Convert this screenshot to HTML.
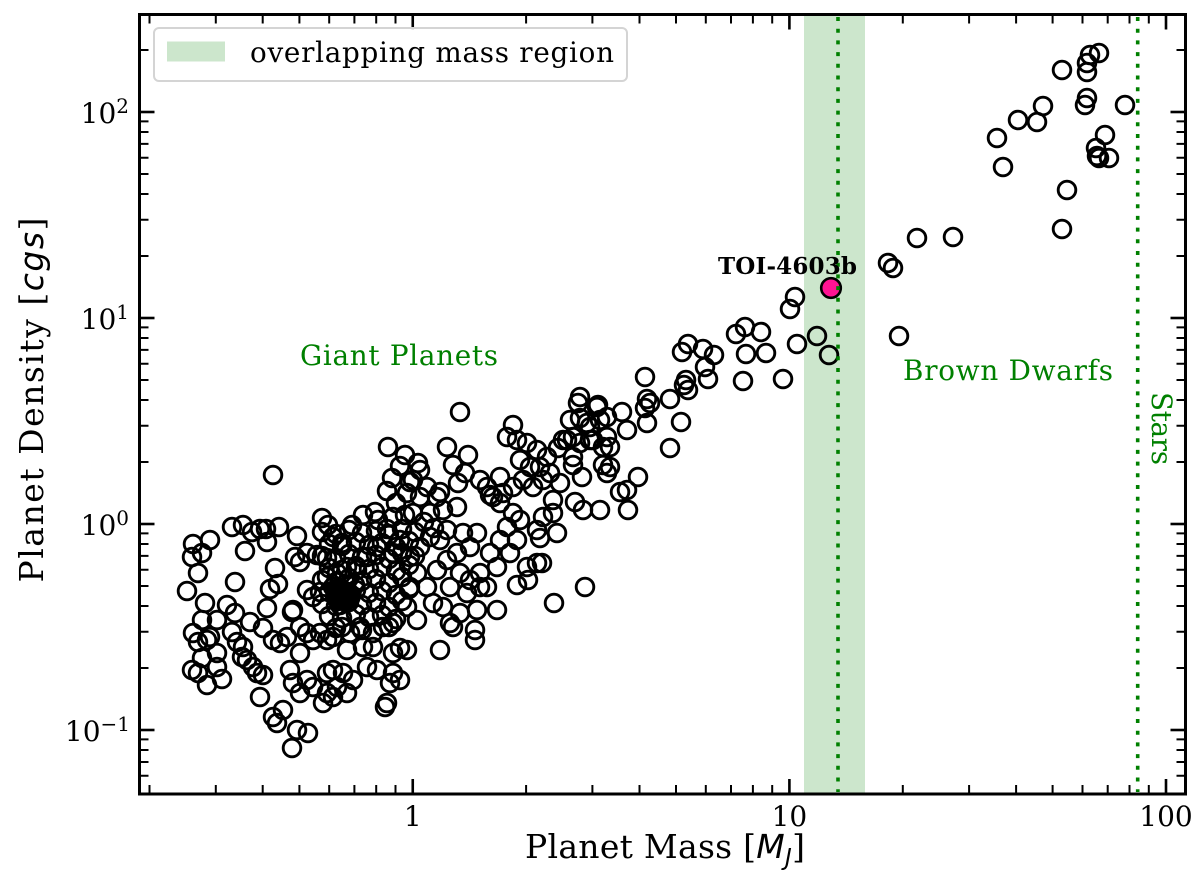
<!DOCTYPE html>
<html><head><meta charset="utf-8"><style>
html,body{margin:0;padding:0;background:#fff;}
svg{display:block;}
text{font-family:"DejaVu Serif","Liberation Serif",serif;}
.m{font-family:"DejaVu Sans","Liberation Sans",sans-serif;font-style:italic;}
</style></head><body>
<svg width="1200" height="884" viewBox="0 0 1200 884" xmlns="http://www.w3.org/2000/svg">
<rect width="1200" height="884" fill="#fff"/>
<!-- band -->
<rect x="804" y="14.5" width="61" height="779.5" fill="#cce6cc"/>
<!-- scatter -->
<ellipse cx="343" cy="596" rx="18" ry="15" fill="#000"/>
<g fill="none" stroke="#000" stroke-width="2.9">
<circle cx="1062" cy="70" r="8.8"/><circle cx="1090" cy="55" r="8.8"/><circle cx="1099" cy="53" r="8.8"/><circle cx="1087" cy="63" r="8.8"/><circle cx="1087" cy="72" r="8.8"/><circle cx="1043" cy="106" r="8.8"/><circle cx="1087" cy="98" r="8.8"/><circle cx="1085" cy="105" r="8.8"/><circle cx="1125" cy="105" r="8.8"/><circle cx="1018" cy="120" r="8.8"/><circle cx="1037" cy="122" r="8.8"/><circle cx="997" cy="138" r="8.8"/><circle cx="1105" cy="135" r="8.8"/><circle cx="1096" cy="148" r="8.8"/><circle cx="1099" cy="158" r="8.8"/><circle cx="1109" cy="158" r="8.8"/><circle cx="1097" cy="156" r="8.8"/><circle cx="1003" cy="167" r="8.8"/><circle cx="1067" cy="190" r="8.8"/><circle cx="1062" cy="229" r="8.8"/><circle cx="917" cy="238" r="8.8"/><circle cx="953" cy="237" r="8.8"/><circle cx="888" cy="263" r="8.8"/><circle cx="893" cy="268" r="8.8"/><circle cx="899" cy="336" r="8.8"/>
<circle cx="795" cy="297" r="8.8"/><circle cx="790" cy="309" r="8.8"/><circle cx="817" cy="336" r="8.8"/><circle cx="829" cy="355" r="8.8"/><circle cx="797" cy="344" r="8.8"/><circle cx="745" cy="327" r="8.8"/><circle cx="736" cy="334" r="8.8"/><circle cx="761" cy="332" r="8.8"/><circle cx="746" cy="354" r="8.8"/><circle cx="766" cy="353" r="8.8"/><circle cx="688" cy="344" r="8.8"/><circle cx="682" cy="352" r="8.8"/><circle cx="703" cy="349" r="8.8"/><circle cx="714" cy="355" r="8.8"/><circle cx="705" cy="367" r="8.8"/><circle cx="708" cy="379" r="8.8"/><circle cx="743" cy="381" r="8.8"/><circle cx="783" cy="379" r="8.8"/><circle cx="645" cy="377" r="8.8"/><circle cx="686" cy="380" r="8.8"/><circle cx="684" cy="385" r="8.8"/><circle cx="688" cy="390" r="8.8"/><circle cx="647" cy="399" r="8.8"/><circle cx="650" cy="403" r="8.8"/><circle cx="645" cy="408" r="8.8"/><circle cx="670" cy="399" r="8.8"/><circle cx="647" cy="423" r="8.8"/><circle cx="681" cy="422" r="8.8"/><circle cx="670" cy="448" r="8.8"/><circle cx="638" cy="477" r="8.8"/>
<circle cx="580" cy="397" r="8.8"/><circle cx="578" cy="403" r="8.8"/><circle cx="597" cy="407" r="8.8"/><circle cx="622" cy="412" r="8.8"/><circle cx="627" cy="430" r="8.8"/><circle cx="570" cy="420" r="8.8"/><circle cx="590" cy="427" r="8.8"/><circle cx="600" cy="420" r="8.8"/><circle cx="607" cy="437" r="8.8"/><circle cx="593" cy="440" r="8.8"/><circle cx="580" cy="443" r="8.8"/><circle cx="567" cy="440" r="8.8"/><circle cx="603" cy="447" r="8.8"/><circle cx="573" cy="457" r="8.8"/><circle cx="610" cy="467" r="8.8"/><circle cx="607" cy="473" r="8.8"/><circle cx="598" cy="405" r="8.8"/><circle cx="607" cy="417" r="8.8"/><circle cx="580" cy="418" r="8.8"/><circle cx="587" cy="423" r="8.8"/><circle cx="573" cy="437" r="8.8"/><circle cx="563" cy="440" r="8.8"/><circle cx="558" cy="448" r="8.8"/><circle cx="590" cy="440" r="8.8"/><circle cx="610" cy="447" r="8.8"/><circle cx="603" cy="465" r="8.8"/><circle cx="573" cy="465" r="8.8"/><circle cx="582" cy="477" r="8.8"/><circle cx="575" cy="502" r="8.8"/><circle cx="583" cy="510" r="8.8"/><circle cx="600" cy="510" r="8.8"/><circle cx="620" cy="492" r="8.8"/><circle cx="627" cy="490" r="8.8"/><circle cx="628" cy="510" r="8.8"/>
<circle cx="513" cy="425" r="8.8"/><circle cx="507" cy="437" r="8.8"/><circle cx="517" cy="440" r="8.8"/><circle cx="527" cy="443" r="8.8"/><circle cx="537" cy="450" r="8.8"/><circle cx="547" cy="457" r="8.8"/><circle cx="520" cy="460" r="8.8"/><circle cx="530" cy="467" r="8.8"/><circle cx="540" cy="467" r="8.8"/><circle cx="550" cy="473" r="8.8"/><circle cx="560" cy="483" r="8.8"/><circle cx="543" cy="480" r="8.8"/><circle cx="533" cy="487" r="8.8"/><circle cx="523" cy="480" r="8.8"/><circle cx="513" cy="487" r="8.8"/><circle cx="503" cy="493" r="8.8"/><circle cx="493" cy="497" r="8.8"/><circle cx="487" cy="487" r="8.8"/><circle cx="480" cy="480" r="8.8"/><circle cx="490" cy="495" r="8.8"/><circle cx="500" cy="477" r="8.8"/><circle cx="553" cy="500" r="8.8"/><circle cx="553" cy="513" r="8.8"/><circle cx="543" cy="517" r="8.8"/><circle cx="537" cy="530" r="8.8"/><circle cx="540" cy="538" r="8.8"/><circle cx="557" cy="533" r="8.8"/><circle cx="513" cy="513" r="8.8"/><circle cx="520" cy="520" r="8.8"/><circle cx="500" cy="503" r="8.8"/><circle cx="507" cy="527" r="8.8"/><circle cx="500" cy="540" r="8.8"/><circle cx="517" cy="540" r="8.8"/><circle cx="510" cy="553" r="8.8"/><circle cx="527" cy="567" r="8.8"/><circle cx="537" cy="563" r="8.8"/><circle cx="517" cy="585" r="8.8"/><circle cx="528" cy="580" r="8.8"/><circle cx="497" cy="567" r="8.8"/><circle cx="490" cy="553" r="8.8"/><circle cx="480" cy="573" r="8.8"/><circle cx="487" cy="587" r="8.8"/><circle cx="497" cy="610" r="8.8"/><circle cx="477" cy="610" r="8.8"/><circle cx="475" cy="630" r="8.8"/><circle cx="475" cy="640" r="8.8"/><circle cx="460" cy="613" r="8.8"/><circle cx="450" cy="623" r="8.8"/><circle cx="443" cy="607" r="8.8"/><circle cx="453" cy="627" r="8.8"/><circle cx="440" cy="650" r="8.8"/><circle cx="417" cy="620" r="8.8"/><circle cx="407" cy="650" r="8.8"/><circle cx="400" cy="680" r="8.8"/><circle cx="585" cy="587" r="8.8"/><circle cx="554" cy="603" r="8.8"/><circle cx="542" cy="563" r="8.8"/>
<circle cx="460" cy="412" r="8.8"/><circle cx="447" cy="447" r="8.8"/><circle cx="453" cy="465" r="8.8"/><circle cx="458" cy="483" r="8.8"/><circle cx="468" cy="455" r="8.8"/><circle cx="465" cy="473" r="8.8"/><circle cx="418" cy="463" r="8.8"/><circle cx="420" cy="470" r="8.8"/><circle cx="413" cy="480" r="8.8"/><circle cx="407" cy="493" r="8.8"/><circle cx="427" cy="487" r="8.8"/><circle cx="440" cy="492" r="8.8"/><circle cx="457" cy="553" r="8.8"/><circle cx="470" cy="547" r="8.8"/><circle cx="477" cy="533" r="8.8"/><circle cx="463" cy="533" r="8.8"/><circle cx="447" cy="530" r="8.8"/><circle cx="440" cy="540" r="8.8"/><circle cx="430" cy="537" r="8.8"/><circle cx="420" cy="547" r="8.8"/><circle cx="447" cy="560" r="8.8"/><circle cx="437" cy="570" r="8.8"/><circle cx="460" cy="573" r="8.8"/><circle cx="470" cy="580" r="8.8"/><circle cx="480" cy="587" r="8.8"/><circle cx="467" cy="593" r="8.8"/><circle cx="450" cy="587" r="8.8"/><circle cx="427" cy="587" r="8.8"/><circle cx="417" cy="573" r="8.8"/><circle cx="410" cy="557" r="8.8"/><circle cx="410" cy="587" r="8.8"/><circle cx="433" cy="603" r="8.8"/><circle cx="407" cy="607" r="8.8"/><circle cx="430" cy="513" r="8.8"/><circle cx="443" cy="510" r="8.8"/><circle cx="457" cy="507" r="8.8"/><circle cx="437" cy="497" r="8.8"/><circle cx="420" cy="497" r="8.8"/><circle cx="413" cy="513" r="8.8"/>
<circle cx="392" cy="478" r="8.8"/><circle cx="400" cy="466" r="8.8"/><circle cx="396" cy="503" r="8.8"/><circle cx="405" cy="515" r="8.8"/><circle cx="424" cy="522" r="8.8"/><circle cx="434" cy="528" r="8.8"/><circle cx="405" cy="455" r="8.8"/>
<circle cx="388" cy="447" r="8.8"/><circle cx="273" cy="475" r="8.8"/><circle cx="387" cy="491" r="8.8"/><circle cx="410" cy="482" r="8.8"/><circle cx="322" cy="518" r="8.8"/><circle cx="328" cy="525" r="8.8"/><circle cx="232" cy="527" r="8.8"/><circle cx="243" cy="525" r="8.8"/><circle cx="252" cy="532" r="8.8"/><circle cx="260" cy="529" r="8.8"/><circle cx="266" cy="529" r="8.8"/><circle cx="279" cy="527" r="8.8"/><circle cx="297" cy="536" r="8.8"/><circle cx="245" cy="551" r="8.8"/><circle cx="267" cy="542" r="8.8"/><circle cx="193" cy="544" r="8.8"/><circle cx="210" cy="540" r="8.8"/><circle cx="202" cy="553" r="8.8"/><circle cx="192" cy="557" r="8.8"/><circle cx="198" cy="573" r="8.8"/><circle cx="187" cy="591" r="8.8"/><circle cx="235" cy="582" r="8.8"/><circle cx="275" cy="568" r="8.8"/><circle cx="278" cy="584" r="8.8"/><circle cx="270" cy="589" r="8.8"/><circle cx="205" cy="603" r="8.8"/><circle cx="227" cy="605" r="8.8"/><circle cx="235" cy="613" r="8.8"/><circle cx="217" cy="620" r="8.8"/><circle cx="202" cy="620" r="8.8"/><circle cx="193" cy="633" r="8.8"/><circle cx="198" cy="642" r="8.8"/><circle cx="207" cy="640" r="8.8"/><circle cx="210" cy="637" r="8.8"/><circle cx="217" cy="653" r="8.8"/><circle cx="202" cy="658" r="8.8"/><circle cx="232" cy="632" r="8.8"/><circle cx="237" cy="642" r="8.8"/><circle cx="243" cy="647" r="8.8"/><circle cx="242" cy="657" r="8.8"/><circle cx="250" cy="622" r="8.8"/><circle cx="267" cy="608" r="8.8"/><circle cx="247" cy="660" r="8.8"/><circle cx="253" cy="667" r="8.8"/><circle cx="257" cy="673" r="8.8"/><circle cx="263" cy="675" r="8.8"/><circle cx="260" cy="697" r="8.8"/><circle cx="192" cy="670" r="8.8"/><circle cx="198" cy="673" r="8.8"/><circle cx="207" cy="685" r="8.8"/><circle cx="222" cy="679" r="8.8"/><circle cx="217" cy="667" r="8.8"/><circle cx="263" cy="628" r="8.8"/><circle cx="273" cy="640" r="8.8"/><circle cx="280" cy="643" r="8.8"/><circle cx="287" cy="637" r="8.8"/><circle cx="292" cy="612" r="8.8"/><circle cx="295" cy="557" r="8.8"/><circle cx="300" cy="562" r="8.8"/><circle cx="307" cy="553" r="8.8"/><circle cx="317" cy="555" r="8.8"/><circle cx="327" cy="558" r="8.8"/><circle cx="333" cy="537" r="8.8"/><circle cx="342" cy="543" r="8.8"/><circle cx="352" cy="525" r="8.8"/><circle cx="363" cy="515" r="8.8"/><circle cx="375" cy="512" r="8.8"/><circle cx="393" cy="517" r="8.8"/><circle cx="387" cy="529" r="8.8"/><circle cx="378" cy="520" r="8.8"/><circle cx="307" cy="590" r="8.8"/><circle cx="313" cy="597" r="8.8"/><circle cx="320" cy="592" r="8.8"/><circle cx="327" cy="577" r="8.8"/><circle cx="333" cy="587" r="8.8"/><circle cx="337" cy="573" r="8.8"/><circle cx="347" cy="567" r="8.8"/><circle cx="357" cy="570" r="8.8"/><circle cx="367" cy="557" r="8.8"/><circle cx="377" cy="547" r="8.8"/><circle cx="393" cy="553" r="8.8"/><circle cx="400" cy="540" r="8.8"/><circle cx="293" cy="610" r="8.8"/><circle cx="300" cy="627" r="8.8"/><circle cx="307" cy="633" r="8.8"/><circle cx="313" cy="640" r="8.8"/><circle cx="320" cy="633" r="8.8"/><circle cx="327" cy="640" r="8.8"/><circle cx="333" cy="637" r="8.8"/><circle cx="342" cy="627" r="8.8"/><circle cx="350" cy="633" r="8.8"/><circle cx="360" cy="627" r="8.8"/><circle cx="373" cy="633" r="8.8"/><circle cx="383" cy="627" r="8.8"/><circle cx="393" cy="623" r="8.8"/><circle cx="300" cy="653" r="8.8"/><circle cx="347" cy="650" r="8.8"/><circle cx="363" cy="647" r="8.8"/><circle cx="373" cy="647" r="8.8"/><circle cx="393" cy="653" r="8.8"/><circle cx="400" cy="648" r="8.8"/><circle cx="290" cy="670" r="8.8"/><circle cx="293" cy="683" r="8.8"/><circle cx="307" cy="680" r="8.8"/><circle cx="300" cy="693" r="8.8"/><circle cx="313" cy="687" r="8.8"/><circle cx="327" cy="673" r="8.8"/><circle cx="333" cy="670" r="8.8"/><circle cx="337" cy="687" r="8.8"/><circle cx="327" cy="693" r="8.8"/><circle cx="323" cy="703" r="8.8"/><circle cx="333" cy="697" r="8.8"/><circle cx="347" cy="693" r="8.8"/><circle cx="353" cy="680" r="8.8"/><circle cx="343" cy="673" r="8.8"/><circle cx="367" cy="667" r="8.8"/><circle cx="377" cy="670" r="8.8"/><circle cx="393" cy="673" r="8.8"/><circle cx="390" cy="683" r="8.8"/><circle cx="387" cy="703" r="8.8"/><circle cx="385" cy="707" r="8.8"/><circle cx="273" cy="717" r="8.8"/><circle cx="283" cy="710" r="8.8"/><circle cx="277" cy="723" r="8.8"/><circle cx="297" cy="730" r="8.8"/><circle cx="308" cy="733" r="8.8"/><circle cx="292" cy="748" r="8.8"/>
<!-- dense core grid -->
<circle cx="322" cy="532" r="8.8"/><circle cx="336" cy="534" r="8.8"/><circle cx="349" cy="530" r="8.8"/><circle cx="362" cy="533" r="8.8"/><circle cx="376" cy="531" r="8.8"/><circle cx="389" cy="535" r="8.8"/><circle cx="402" cy="529" r="8.8"/><circle cx="415" cy="532" r="8.8"/>
<circle cx="329" cy="544" r="8.8"/><circle cx="342" cy="546" r="8.8"/><circle cx="356" cy="542" r="8.8"/><circle cx="369" cy="545" r="8.8"/><circle cx="382" cy="543" r="8.8"/><circle cx="396" cy="547" r="8.8"/><circle cx="409" cy="541" r="8.8"/>
<circle cx="322" cy="556" r="8.8"/><circle cx="336" cy="558" r="8.8"/><circle cx="349" cy="554" r="8.8"/><circle cx="362" cy="557" r="8.8"/><circle cx="376" cy="555" r="8.8"/><circle cx="389" cy="559" r="8.8"/><circle cx="402" cy="553" r="8.8"/><circle cx="415" cy="556" r="8.8"/>
<circle cx="329" cy="568" r="8.8"/><circle cx="342" cy="570" r="8.8"/><circle cx="356" cy="566" r="8.8"/><circle cx="369" cy="569" r="8.8"/><circle cx="382" cy="567" r="8.8"/><circle cx="396" cy="571" r="8.8"/><circle cx="409" cy="565" r="8.8"/>
<circle cx="322" cy="580" r="8.8"/><circle cx="336" cy="582" r="8.8"/><circle cx="349" cy="578" r="8.8"/><circle cx="362" cy="581" r="8.8"/><circle cx="376" cy="579" r="8.8"/><circle cx="389" cy="583" r="8.8"/><circle cx="402" cy="577" r="8.8"/>
<circle cx="329" cy="592" r="8.8"/><circle cx="342" cy="594" r="8.8"/><circle cx="356" cy="590" r="8.8"/><circle cx="369" cy="593" r="8.8"/><circle cx="382" cy="591" r="8.8"/><circle cx="396" cy="595" r="8.8"/><circle cx="409" cy="589" r="8.8"/>
<circle cx="322" cy="604" r="8.8"/><circle cx="336" cy="606" r="8.8"/><circle cx="349" cy="602" r="8.8"/><circle cx="362" cy="605" r="8.8"/><circle cx="376" cy="603" r="8.8"/><circle cx="389" cy="607" r="8.8"/><circle cx="402" cy="601" r="8.8"/>
<circle cx="329" cy="616" r="8.8"/><circle cx="342" cy="618" r="8.8"/><circle cx="356" cy="614" r="8.8"/><circle cx="369" cy="617" r="8.8"/><circle cx="382" cy="615" r="8.8"/><circle cx="396" cy="619" r="8.8"/>
<circle cx="336" cy="628" r="8.8"/><circle cx="362" cy="630" r="8.8"/><circle cx="389" cy="627" r="8.8"/>
<circle cx="335" cy="590" r="8.8"/><circle cx="350" cy="598" r="8.8"/><circle cx="340" cy="605" r="8.8"/><circle cx="355" cy="585" r="8.8"/>
</g>
<!-- TOI point -->
<circle cx="831" cy="288" r="9.8" fill="#ff1493" stroke="#000" stroke-width="2.6"/>
<!-- dotted lines -->
<line x1="838" y1="17" x2="838" y2="792" stroke="#008000" stroke-width="3.6" stroke-dasharray="4 7.7"/>
<line x1="1137.7" y1="17" x2="1137.7" y2="792" stroke="#008000" stroke-width="3.6" stroke-dasharray="4 7.7"/>
<!-- annotations -->
<text x="300" y="365" font-size="27.8" fill="#008000" textLength="198">Giant Planets</text>
<text x="903" y="380" font-size="27.8" fill="#008000" textLength="210">Brown Dwarfs</text>
<text transform="translate(1152,392) rotate(90)" font-size="27.8" fill="#008000" textLength="73">Stars</text>
<text x="718" y="274" font-size="23" font-weight="bold" fill="#000" textLength="139">TOI-4603b</text>
<!-- ticks -->
<g stroke="#000" stroke-width="2.6">
<line x1="412.75" y1="794" x2="412.75" y2="779"/><line x1="789.4" y1="794" x2="789.4" y2="779"/><line x1="1166" y1="794" x2="1166" y2="779"/>
<line x1="412.75" y1="14.5" x2="412.75" y2="29.5"/><line x1="789.4" y1="14.5" x2="789.4" y2="29.5"/><line x1="1166" y1="14.5" x2="1166" y2="29.5"/>
<line x1="139.5" y1="112" x2="154.5" y2="112"/><line x1="139.5" y1="318" x2="154.5" y2="318"/><line x1="139.5" y1="524" x2="154.5" y2="524"/><line x1="139.5" y1="730" x2="154.5" y2="730"/>
<line x1="1185.5" y1="112" x2="1170.5" y2="112"/><line x1="1185.5" y1="318" x2="1170.5" y2="318"/><line x1="1185.5" y1="524" x2="1170.5" y2="524"/><line x1="1185.5" y1="730" x2="1170.5" y2="730"/>
</g>
<g stroke="#000" stroke-width="2">
<path d="M149.5 794v-9M215.8 794v-9M262.7 794v-9M299.4 794v-9M329.2 794v-9M354.4 794v-9M376.2 794v-9M395.5 794v-9
M526.1 794v-9M592.4 794v-9M639.5 794v-9M676 794v-9M705.8 794v-9M731 794v-9M752.9 794v-9M772.2 794v-9
M902.8 794v-9M969.1 794v-9M1016.1 794v-9M1052.6 794v-9M1082.5 794v-9M1107.7 794v-9M1129.5 794v-9M1148.8 794v-9"/>
<path d="M149.5 14.5v9M215.8 14.5v9M262.7 14.5v9M299.4 14.5v9M329.2 14.5v9M354.4 14.5v9M376.2 14.5v9M395.5 14.5v9
M526.1 14.5v9M592.4 14.5v9M639.5 14.5v9M676 14.5v9M705.8 14.5v9M731 14.5v9M752.9 14.5v9M772.2 14.5v9
M902.8 14.5v9M969.1 14.5v9M1016.1 14.5v9M1052.6 14.5v9M1082.5 14.5v9M1107.7 14.5v9M1129.5 14.5v9M1148.8 14.5v9"/>
<path d="M139.5 775.7h9M139.5 762h9M139.5 750h9M139.5 739.4h9
M139.5 668h9M139.5 631.7h9M139.5 606h9M139.5 586h9M139.5 569.7h9M139.5 555.9h9M139.5 544h9M139.5 533.4h9
M139.5 462h9M139.5 425.7h9M139.5 400h9M139.5 380h9M139.5 363.7h9M139.5 349.9h9M139.5 338h9M139.5 327.4h9
M139.5 256h9M139.5 219.7h9M139.5 194h9M139.5 174h9M139.5 157.7h9M139.5 143.9h9M139.5 132h9M139.5 121.4h9
M139.5 50h9"/>
<path d="M1185.5 775.7h-9M1185.5 762h-9M1185.5 750h-9M1185.5 739.4h-9
M1185.5 668h-9M1185.5 631.7h-9M1185.5 606h-9M1185.5 586h-9M1185.5 569.7h-9M1185.5 555.9h-9M1185.5 544h-9M1185.5 533.4h-9
M1185.5 462h-9M1185.5 425.7h-9M1185.5 400h-9M1185.5 380h-9M1185.5 363.7h-9M1185.5 349.9h-9M1185.5 338h-9M1185.5 327.4h-9
M1185.5 256h-9M1185.5 219.7h-9M1185.5 194h-9M1185.5 174h-9M1185.5 157.7h-9M1185.5 143.9h-9M1185.5 132h-9M1185.5 121.4h-9
M1185.5 50h-9"/>
</g>
<!-- spines -->
<rect x="139.5" y="14.5" width="1046" height="779.5" fill="none" stroke="#000" stroke-width="3"/>
<!-- legend -->
<rect x="154" y="28" width="473" height="53" rx="5" ry="5" fill="#fff" fill-opacity="0.8" stroke="#d4d4d4" stroke-width="2"/>
<rect x="167" y="41.5" width="58" height="20" fill="#cce6cc"/>
<text x="250" y="62" font-size="27.8" fill="#000" textLength="364">overlapping mass region</text>
<!-- tick labels -->
<g font-size="28" fill="#000">
<text x="412.75" y="826" text-anchor="middle">1</text>
<text x="789.4" y="826" text-anchor="middle">10</text>
<text x="1166" y="826" text-anchor="middle">100</text>
<text x="129" y="123" text-anchor="end">10<tspan font-size="20" dy="-10">2</tspan></text>
<text x="129" y="329" text-anchor="end">10<tspan font-size="20" dy="-10">1</tspan></text>
<text x="129" y="535" text-anchor="end">10<tspan font-size="20" dy="-10">0</tspan></text>
<text x="130" y="741" text-anchor="end">10<tspan font-size="20" dy="-10">−1</tspan></text>
</g>
<!-- axis labels -->
<text x="665" y="858" text-anchor="middle" font-size="33" fill="#000" textLength="280">Planet Mass [<tspan class="m">M</tspan><tspan class="m" font-size="23" dy="7">J</tspan><tspan dy="-7">]</tspan></text>
<text transform="translate(43,400) rotate(-90)" text-anchor="middle" font-size="33" fill="#000" textLength="365">Planet Density [<tspan class="m">cgs</tspan>]</text>
</svg>
</body></html>
